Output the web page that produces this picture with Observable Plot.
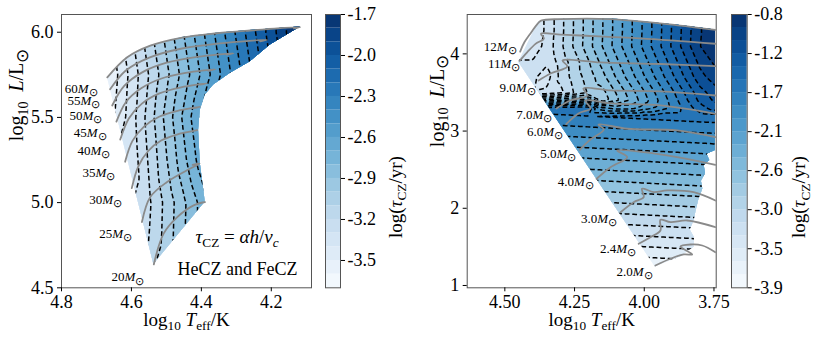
<!DOCTYPE html>
<html><head><meta charset="utf-8">
<script src="https://cdn.jsdelivr.net/npm/d3@7"></script>
<script src="https://cdn.jsdelivr.net/npm/@observablehq/plot@0.6"></script>
<style>
html,body{margin:0;padding:0;background:#fff;}
#chart{position:relative;width:814px;height:343px;overflow:hidden;background:#fff;}
#chart > svg{position:absolute;top:0;}
</style></head><body><div id="chart"></div>
<script>
// ---------------- LEFT PANEL DATA (massive stars) ----------------
const leftMasses = ["60","55","50","45","40","35","30","25","20"];
const leftTrackT = [
  [4.669,4.612,4.546,4.451,4.355,4.26,4.117,4.135],
  [4.661,4.616,4.549,4.459,4.347,4.212,4.232],
  [4.655,4.620,4.568,4.499,4.412,4.308,4.328],
  [4.643,4.615,4.572,4.516,4.445,4.36,4.38],
  [4.632,4.607,4.570,4.520,4.458,4.384,4.404],
  [4.618,4.597,4.564,4.521,4.468,4.403,4.423],
  [4.599,4.580,4.552,4.515,4.468,4.412,4.432],
  [4.570,4.546,4.498,4.441,4.405,4.425],
  [4.536,4.508,4.469,4.422,4.389,4.409]
];
const leftTrackL = [
  [5.735,5.853,5.921,5.97,5.994,6.01,6.03,6.022],
  [5.665,5.775,5.851,5.903,5.935,5.955,5.947],
  [5.57,5.686,5.766,5.821,5.855,5.876,5.868],
  [5.475,5.592,5.671,5.727,5.761,5.782,5.774],
  [5.37,5.495,5.581,5.641,5.677,5.70,5.692],
  [5.24,5.362,5.446,5.504,5.539,5.562,5.554],
  [5.085,5.214,5.303,5.364,5.401,5.425,5.417],
  [4.886,5.033,5.121,5.19,5.229,5.221],
  [4.637,4.818,4.915,4.984,5.004,4.996]
];
const leftLabelT = [4.697,4.689,4.683,4.671,4.66,4.646,4.627,4.598,4.563];
const leftLabelL = [5.668,5.600,5.508,5.409,5.302,5.174,5.018,4.818,4.562];
const leftEdgeT = [4.669,4.536,4.389,4.393,4.403,4.408,4.403,4.389,4.365,4.317,4.26,4.203,4.117,4.26,4.355,4.451,4.546,4.612];
const leftEdgeL = [5.735,4.637,5.004,5.072,5.229,5.425,5.543,5.631,5.69,5.759,5.827,5.925,6.03,6.01,5.994,5.97,5.921,5.853];
const leftGridT = [4.70,4.65,4.60,4.55,4.50,4.45,4.40,4.35,4.30,4.25,4.20,4.15,4.10];
const leftGridL = [4.5,4.75,5.0,5.25,5.5,5.75,6.0,6.1];
const leftGridTau = [
  [-3.09,-3.09,-3.09,-3.09,-3.04,-2.90,-2.76,-2.62,-2.48,-2.34,-2.20,-2.06,-1.92],
  [-3.19,-3.19,-3.19,-3.19,-3.05,-2.90,-2.76,-2.61,-2.47,-2.32,-2.18,-2.03,-1.89],
  [-3.30,-3.30,-3.30,-3.21,-3.06,-2.91,-2.76,-2.61,-2.46,-2.31,-2.16,-2.01,-1.86],
  [-3.40,-3.40,-3.36,-3.18,-3.00,-2.82,-2.64,-2.46,-2.28,-2.10,-1.92,-1.74,-1.69],
  [-3.50,-3.50,-3.34,-3.15,-2.96,-2.77,-2.58,-2.39,-2.20,-2.01,-1.82,-1.69,-1.69],
  [-3.62,-3.53,-3.36,-3.19,-3.02,-2.85,-2.68,-2.51,-2.34,-2.17,-2.00,-1.83,-1.69],
  [-3.65,-3.47,-3.30,-3.13,-2.96,-2.79,-2.62,-2.45,-2.28,-2.11,-1.94,-1.77,-1.69],
  [-3.65,-3.47,-3.30,-3.13,-2.96,-2.79,-2.62,-2.45,-2.28,-2.11,-1.94,-1.77,-1.69]
];
const leftXTicks = [4.8,4.6,4.4,4.2];
const leftYTicks = [4.5,5.0,5.5,6.0];
const leftCbarTicks = [-3.493,-3.193,-2.893,-2.593,-2.293,-1.993,-1.693];
const leftCbarLabels = ["-3.5","-3.2","-2.9","-2.6","-2.3","-2.0","-1.7"];

// ---------------- RIGHT PANEL DATA (intermediate-mass stars) ----------------
const rightMasses = ["12","11","9.0","7.0","6.0","5.0","4.0","3.0","2.4","2.0"];
const rightTrackT = [
  [4.445,4.43,4.405,4.385,4.37,4.30,4.12,3.88,3.745],
  [4.447,4.42,4.39,4.36,4.37,4.30,4.229,4.014,3.745],
  [4.379,4.336,4.276,4.293,4.157,3.942,3.745],
  [4.315,4.265,4.204,4.218,4.121,3.942,3.745],
  [4.280,4.236,4.193,4.211,4.121,3.942,3.745],
  [4.231,4.193,4.145,4.164,4.061,3.882,3.745],
  [4.171,4.121,4.061,4.097,4.002,3.882,3.745],
  [4.085,4.038,4.002,4.008,3.966,3.918,3.823,3.745],
  [4.020,3.978,3.942,3.942,3.906,3.846,3.745],
  [3.960,3.906,3.858,3.828,3.870,3.834,3.792,3.745]
];
const rightTrackL = [
  [4.03,4.15,4.28,4.38,4.43,4.45,4.45,4.37,4.31],
  [3.91,4.02,4.13,4.2,4.26,4.25,4.238,4.2,4.131],
  [3.655,3.746,3.837,3.914,3.889,3.869,3.841],
  [3.293,3.396,3.461,3.552,3.526,3.513,3.461],
  [3.089,3.228,3.293,3.396,3.358,3.332,3.224],
  [2.758,2.891,3.021,3.085,3.03,3.008,2.921],
  [2.382,2.532,2.662,2.749,2.727,2.662,2.563],
  [1.949,2.079,2.144,2.253,2.209,2.231,2.209,2.101],
  [1.540,1.626,1.712,1.851,1.820,1.842,1.755],
  [1.259,1.346,1.402,1.402,1.505,1.531,1.518,1.431]
];
const rightLabelT = [4.458,4.444,4.39,4.33,4.291,4.244,4.181,4.097,4.029,3.970];
const rightLabelL = [4.087,3.872,3.561,3.211,2.986,2.706,2.347,1.864,1.475,1.172];
const rightEdgeT = [4.378,4.30,4.12,3.88,3.745,3.745,3.775,3.765,3.785,3.78,3.795,3.79,3.805,3.815,3.82,3.835,3.82,3.82,3.87,3.955,3.96,4.45];
const rightEdgeL = [4.42,4.45,4.455,4.37,4.31,2.75,2.70,2.62,2.55,2.45,2.35,2.25,2.10,1.95,1.85,1.72,1.62,1.50,1.37,1.25,1.237,3.89];
const rightGridT = [4.50,4.45,4.40,4.35,4.30,4.25,4.20,4.15,4.10,4.05,4.00,3.95,3.90,3.85,3.80,3.74];
const rightGridL = [1.1,1.5,1.9,2.3,2.7,3.0,3.2,3.3,3.4,3.5,3.7,3.9,4.1,4.3,4.5];
const rightGridTau = [
  [-3.90,-3.90,-3.90,-3.90,-3.90,-3.90,-3.90,-3.90,-3.90,-3.90,-3.89,-3.88,-3.87,-3.86,-3.85,-3.83],
  [-3.56,-3.55,-3.54,-3.53,-3.52,-3.51,-3.50,-3.49,-3.48,-3.47,-3.46,-3.45,-3.44,-3.43,-3.42,-3.41],
  [-3.13,-3.12,-3.11,-3.10,-3.09,-3.08,-3.07,-3.06,-3.05,-3.04,-3.03,-3.02,-3.01,-3.00,-2.99,-2.98],
  [-2.70,-2.69,-2.68,-2.67,-2.66,-2.65,-2.64,-2.63,-2.62,-2.61,-2.60,-2.59,-2.58,-2.57,-2.56,-2.55],
  [-2.28,-2.27,-2.26,-2.25,-2.24,-2.23,-2.22,-2.21,-2.20,-2.19,-2.18,-2.17,-2.16,-2.15,-2.14,-2.12],
  [-1.95,-1.94,-1.93,-1.92,-1.91,-1.90,-1.89,-1.88,-1.87,-1.86,-1.85,-1.84,-1.83,-1.82,-1.81,-1.80],
  [-1.74,-1.73,-1.72,-1.71,-1.70,-1.69,-1.68,-1.67,-1.66,-1.65,-1.64,-1.63,-1.62,-1.61,-1.60,-1.59],
  [-1.63,-1.62,-1.61,-1.60,-1.59,-1.58,-1.57,-2.10,-2.20,-2.20,-2.05,-1.95,-1.80,-1.62,-1.45,-1.30],
  [-2.50,-2.50,-2.50,-2.50,-2.45,-2.40,-2.35,-2.82,-2.61,-2.40,-2.19,-1.98,-1.77,-1.56,-1.35,-1.20],
  [-3.30,-3.30,-3.30,-3.28,-3.20,-3.00,-2.85,-2.77,-2.56,-2.35,-2.14,-1.93,-1.72,-1.51,-1.30,-1.15],
  [-3.25,-3.25,-3.28,-3.38,-3.12,-2.95,-2.80,-2.62,-2.41,-2.20,-1.99,-1.78,-1.57,-1.36,-1.15,-1.00],
  [-3.30,-3.30,-3.30,-3.28,-3.10,-2.94,-2.73,-2.52,-2.31,-2.10,-1.89,-1.68,-1.47,-1.26,-1.05,-0.90],
  [-3.40,-3.40,-3.40,-3.26,-3.05,-2.84,-2.63,-2.42,-2.21,-2.00,-1.79,-1.58,-1.37,-1.16,-0.95,-0.82],
  [-3.45,-3.45,-3.43,-3.28,-3.06,-2.85,-2.64,-2.43,-2.22,-2.01,-1.80,-1.59,-1.38,-1.17,-0.96,-0.82],
  [-3.45,-3.45,-3.43,-3.28,-3.06,-2.85,-2.64,-2.43,-2.22,-2.01,-1.80,-1.59,-1.38,-1.17,-0.96,-0.82]
];
const rightXTicks = [4.50,4.25,4.00,3.75];
const rightYTicks = [1,2,3,4];
const rightCbarTicks = [-3.9,-3.457,-3.014,-2.571,-2.129,-1.686,-1.243,-0.8];
const rightCbarLabels = ["-3.9","-3.5","-3.0","-2.6","-2.1","-1.7","-1.2","-0.8"];

// ---------------- helpers ----------------
const SERIF = "'Liberation Serif','Times New Roman',serif";
const STYLE = {fontFamily: SERIF, fontSize: "18px", background: "transparent", color: "#000", overflow: "visible"};
const levelsOf = (lo, hi, n) => d3.range(n + 1).map(i => lo + (hi - lo) * i / n);
function colorSpec(levels) {
  const n = levels.length - 1;
  return {type: "threshold", domain: levels.slice(1, -1),
          range: d3.range(n).map(i => d3.interpolateBlues((i + 0.5) / n))};
}
const gridPoints = (T, L, V) => L.flatMap((l, i) => T.map((t, j) => ({t, l, v: V[i][j]})));
const trackPoints = (M, TT, LL) => M.flatMap((m, k) => TT[k].map((t, j) => ({m, t, l: LL[k][j]})));
const labelPoints = (M, T, L) => M.map((m, i) => ({m, t: T[i], l: L[i]}));

function panel(o) {
  const pts = gridPoints(o.gridT, o.gridL, o.gridTau);
  const inner = o.levels.slice(1, -1);
  const bounds = {x1: o.gridT[0], x2: o.gridT[o.gridT.length - 1], y1: o.gridL[0], y2: o.gridL[o.gridL.length - 1]};
  const svg = Plot.plot({
    width: o.width, height: 343, marginLeft: o.marginLeft, marginRight: o.marginRight,
    marginTop: 14, marginBottom: 55.7, style: STYLE,
    x: {domain: o.xDomain}, y: {domain: o.yDomain},
    color: colorSpec(o.levels),
    marks: [
      Plot.contour(pts, {x: "t", y: "l", fill: "v", interpolate: "barycentric", thresholds: [-100, ...inner], ...bounds}),
      Plot.contour(pts, {x: "t", y: "l", value: "v", interpolate: "barycentric", thresholds: inner, ...bounds,
        fill: "none", stroke: "#000", strokeWidth: 1.5, strokeDasharray: "4.8,2.8"}),
      Plot.line(trackPoints(o.masses, o.trackT, o.trackL), {x: "t", y: "l", z: "m", stroke: "#8a8a8a",
        strokeWidth: 1.8, curve: "catmull-rom", clip: true}),
      Plot.text(labelPoints(o.masses, o.labelT, o.labelL), {x: "t", y: "l", text: d => d.m + "M⊙",
        textAnchor: "end", fontSize: 13}),
      Plot.frame({stroke: "#555"}),
      Plot.axisX({ticks: o.xTicks, tickFormat: o.xFmt, tickSize: 4, tickPadding: 3, fontSize: 18, label: null}),
      Plot.axisY({ticks: o.yTicks, tickFormat: o.yFmt, tickSize: 4, tickPadding: 4, fontSize: 18, label: null}),
      Plot.text(["log10 Teff/K"], {frameAnchor: "bottom", dy: 38, text: d => d, fontSize: 19}),
      Plot.text(["log10 L/L⊙"], {frameAnchor: "left", dx: o.ylabelDx, dy: o.ylabelDy, rotate: -90, text: d => d, fontSize: 20}),
      ...(o.extras || [])
    ]
  });
  svg.style.left = o.left + "px";
  // clip the contour field to the area covered by the model grid
  const x = svg.scale("x"), y = svg.scale("y");
  const d = "M" + o.edgeT.map((t, i) => x.apply(t) + "," + y.apply(o.edgeL[i])).join("L") + "Z";
  const ns = "http://www.w3.org/2000/svg";
  const defs = document.createElementNS(ns, "defs");
  const cp = document.createElementNS(ns, "clipPath");
  cp.setAttribute("id", o.id);
  const p = document.createElementNS(ns, "path");
  p.setAttribute("d", d);
  cp.appendChild(p); defs.appendChild(cp); svg.insertBefore(defs, svg.firstChild);
  svg.querySelectorAll('g[aria-label="contour"]').forEach(g => {
    const w = document.createElementNS(ns, "g");
    w.setAttribute("clip-path", `url(#${o.id})`);
    g.parentNode.insertBefore(w, g); w.appendChild(g);
  });
  return svg;
}

function colorbar(o) {
  const lv = o.levels;
  const bands = d3.range(lv.length - 1).map(i => ({lo: lv[i], hi: lv[i + 1], mid: (lv[i] + lv[i + 1]) / 2}));
  const svg = Plot.plot({
    width: o.width, height: 343, marginLeft: o.marginLeft, marginRight: o.marginRight,
    marginTop: 14, marginBottom: 55.7, style: STYLE,
    x: {domain: [0, 1], axis: null}, y: {domain: [lv[0], lv[lv.length - 1]]},
    color: colorSpec(lv),
    marks: [
      Plot.rect(bands, {x1: 0, x2: 1, y1: "lo", y2: "hi", fill: "mid"}),
      Plot.frame({stroke: "#555"}),
      Plot.axisY({anchor: "right", ticks: o.ticks, tickFormat: t => o.labels[o.ticks.indexOf(t)],
        tickSize: 4, tickPadding: 3, fontSize: 18, label: null}),
      Plot.text(["log(τCZ/yr)"], {frameAnchor: "right", dx: o.labelDx, dy: 5, rotate: -90, text: d => d, fontSize: 19})
    ]
  });
  svg.style.left = o.left + "px";
  return svg;
}

const leftLevels = levelsOf(-3.693, -1.693, 20);
const rightLevels = levelsOf(-3.9, -0.8, 21);
const chart = document.getElementById("chart");

chart.appendChild(panel({
  id: "clipLeft", left: 0, width: 320, marginLeft: 61, marginRight: 9,
  xDomain: [4.8, 4.085], yDomain: [4.5, 6.104],
  xTicks: leftXTicks, xFmt: d => d.toFixed(1), yTicks: leftYTicks, yFmt: d => d.toFixed(1),
  gridT: leftGridT, gridL: leftGridL, gridTau: leftGridTau, levels: leftLevels,
  masses: leftMasses, trackT: leftTrackT, trackL: leftTrackL, labelT: leftLabelT, labelL: leftLabelL,
  edgeT: leftEdgeT, edgeL: leftEdgeL, ylabelDx: -45, ylabelDy: -10,
  extras: [
    Plot.text(["τCZ = αh/vc"], {frameAnchor: "bottom-left", dx: 134, dy: -45, textAnchor: "start", text: d => d, fontSize: 19}),
    Plot.text(["HeCZ and FeCZ"], {frameAnchor: "bottom-right", dx: -14, dy: -12.5, textAnchor: "end", text: d => d, fontSize: 18})
  ]
}));
chart.appendChild(colorbar({left: 318, width: 90, marginLeft: 7, marginRight: 68, labelDx: 55,
  levels: leftLevels, ticks: leftCbarTicks, labels: leftCbarLabels}));
chart.appendChild(panel({
  id: "clipRight", left: 410, width: 314, marginLeft: 56.7, marginRight: 8.3,
  xDomain: [4.635, 3.742], yDomain: [0.970, 4.510],
  xTicks: rightXTicks, xFmt: d => d.toFixed(2), yTicks: rightYTicks, yFmt: d => String(d),
  gridT: rightGridT, gridL: rightGridL, gridTau: rightGridTau, levels: rightLevels,
  masses: rightMasses, trackT: rightTrackT, trackL: rightTrackL, labelT: rightLabelT, labelL: rightLabelL,
  edgeT: rightEdgeT, edgeL: rightEdgeL, ylabelDx: -30, ylabelDy: -4
}));
chart.appendChild(colorbar({left: 725, width: 89, marginLeft: 6, marginRight: 67.3, labelDx: 52,
  levels: rightLevels, ticks: rightCbarTicks, labels: rightCbarLabels}));

// ---------------- math-like rich text (italics, subscripts) ----------------
const RICH = {
  "log10 Teff/K": [["log",""],["10","s"],[" ",""],["T","i"],["eff","s"],["/K",""]],
  "log10 L/L⊙": [["log",""],["10","s"],["  ",""],["L","i"],["/","" ],["L",""],["⊙","S"]],
  "log(τCZ/yr)": [["log(",""],["τ","i"],["CZ","s"],["/yr)",""]],
  "τCZ = αh/vc": [["τ","i"],["CZ","s"],[" = ",""],["α","i"],["h","i"],["/",""],["v","i"],["c","si"]]
};
chart.querySelectorAll("text").forEach(el => {
  const s = el.textContent;
  let parts = RICH[s];
  const m = /^(.+)M⊙$/.exec(s);
  if (!parts && m) parts = [[m[1], ""], ["M", "i"], ["⊙", "S"]];
  if (!parts) return;
  const fs = parseFloat(getComputedStyle(el).fontSize) || 18;
  const off = 0.24 * fs;
  el.textContent = "";
  el.setAttribute("xml:space", "preserve");
  el.style.whiteSpace = "pre";
  let sub = false;
  for (const [txt, st] of parts) {
    const ts = document.createElementNS("http://www.w3.org/2000/svg", "tspan");
    ts.textContent = txt;
    if (st.includes("i")) ts.setAttribute("font-style", "italic");
    const isSub = st.includes("s") || st.includes("S");
    if (isSub) {
      ts.setAttribute("font-size", ((st.includes("S") ? 0.85 : 0.7) * fs).toFixed(1) + "px");
      if (!sub) { ts.setAttribute("dy", off.toFixed(1)); sub = true; }
    } else if (sub) { ts.setAttribute("dy", (-off).toFixed(1)); sub = false; }
    el.appendChild(ts);
  }
});
</script></body></html>
